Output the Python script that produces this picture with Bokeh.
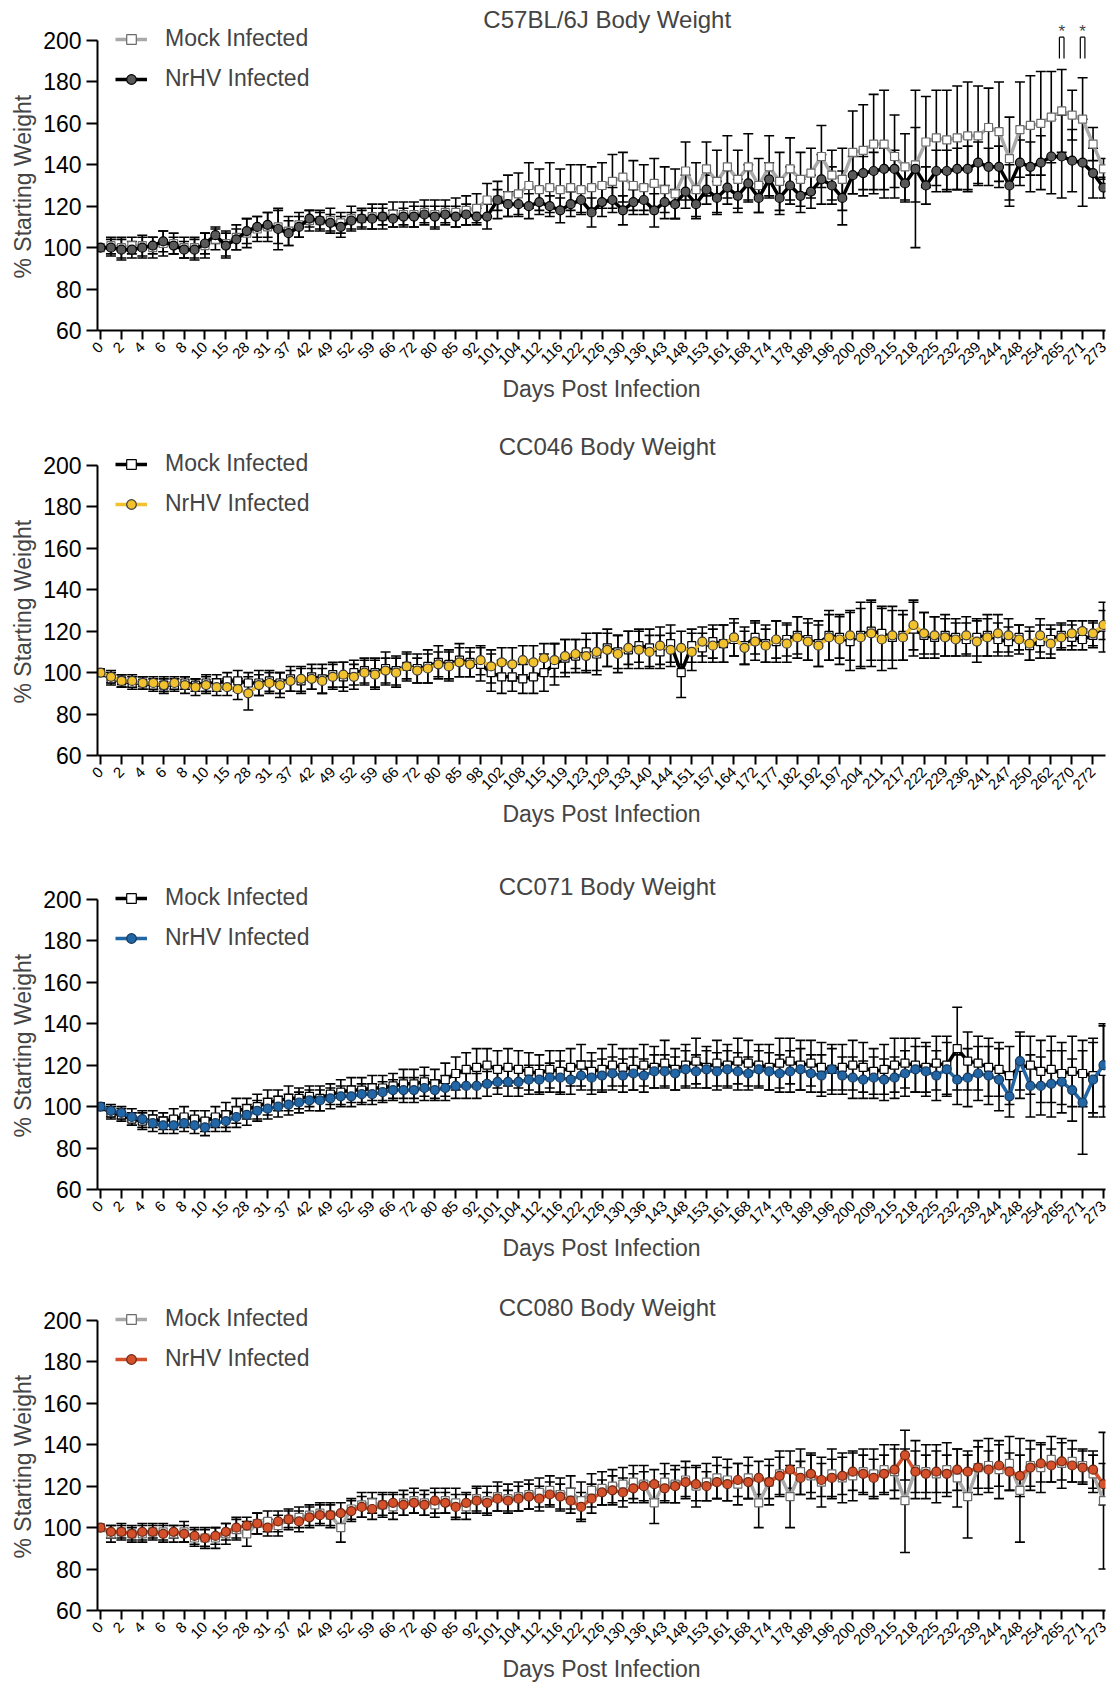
import math
from bokeh.plotting import figure
from bokeh.models import (FixedTicker, Legend, LegendItem, Label, ColumnDataSource,
                          Whisker, TeeHead, Range1d, Title)
from bokeh.layouts import column
from bokeh.embed import file_html
from bokeh.resources import INLINE

# ---------------- data ----------------
DAYS_A = [0, 1, 2, 3, 4, 5, 6, 7, 8, 9, 10, 12, 15, 21, 28, 29, 31, 35, 37, 39,
          42, 45, 49, 50, 52, 56, 59, 63, 66, 70, 72, 77, 80, 83, 85, 88, 92, 97, 101, 102,
          104, 108, 112, 114, 116, 119, 122, 124, 126, 128, 130, 133, 136, 140, 143, 145, 148, 151, 153, 157,
          161, 164, 168, 171, 174, 176, 178, 182, 189, 192, 196, 197, 200, 204, 209, 211, 215, 217, 218, 222,
          225, 229, 232, 236, 239, 241, 244, 246, 248, 250, 254, 262, 265, 270, 271, 272, 273]
DAYS_B = [0, 1, 2, 3, 4, 5, 6, 7, 8, 9, 10, 12, 15, 21, 28, 29, 31, 35, 37, 39,
          42, 45, 49, 50, 52, 56, 59, 63, 66, 70, 72, 77, 80, 83, 85, 92, 98, 100, 102, 105,
          108, 112, 115, 117, 119, 121, 123, 126, 129, 131, 133, 136, 140, 142, 144, 148, 151, 154, 157, 161,
          164, 168, 172, 175, 177, 179, 182, 189, 192, 195, 197, 200, 204, 208, 211, 215, 217, 219, 222, 225,
          229, 232, 236, 239, 241, 244, 247, 248, 250, 254, 262, 265, 270, 271, 272, 273]
LABELED_A = DAYS_A[0::2]
LABELED_B = DAYS_B[0::2]

# Panel 1: C57BL/6J
B6_MOCK = [100, 101, 100, 101, 101, 100, 102, 102, 100, 100,
           101, 104, 102, 105, 107, 109, 110, 110, 108, 111,
           113, 113, 113, 112, 114, 114, 115, 115, 116, 116,
           116, 117, 116, 117, 117, 118, 119, 123, 123, 125,
           126, 130, 128, 129, 128, 129, 128, 129, 130, 132,
           134, 130, 129, 131, 128, 126, 137, 128, 138, 132,
           139, 133, 139, 130, 139, 132, 138, 133, 136, 144,
           135, 133, 146, 147, 150, 150, 144, 139, 140, 151,
           153, 152, 153, 154, 154, 158, 156, 143, 157, 159,
           160, 163, 166, 164, 162, 150, 138]
B6_MOCK_ERR = [0, 4, 5, 4, 5, 5, 6, 5, 5, 5,
               6, 5, 6, 6, 7, 6, 7, 8, 7, 6,
               5, 5, 6, 5, 6, 5, 6, 6, 6, 6,
               6, 6, 7, 6, 7, 7, 7, 8, 9, 10,
               10, 11, 10, 12, 10, 11, 12, 10, 11, 13,
               12, 12, 11, 12, 11, 12, 14, 13, 13, 15,
               15, 14, 16, 13, 15, 14, 15, 13, 12, 15,
               12, 15, 20, 22, 24, 26, 20, 16, 18, 22,
               23, 24, 25, 26, 24, 19, 24, 20, 23, 24,
               25, 22, 20, 12, 20, 8, 5]
B6_NRHV = [100, 100, 99, 99, 100, 101, 103, 101, 99, 99,
           102, 106, 101, 104, 108, 110, 111, 109, 107, 110,
           114, 113, 112, 110, 113, 114, 114, 115, 114, 115,
           115, 116, 115, 116, 115, 116, 115, 115, 123, 121,
           121, 120, 122, 120, 118, 121, 123, 117, 122, 123,
           118, 122, 123, 118, 122, 121, 127, 121, 128, 124,
           129, 125, 131, 124, 133, 124, 130, 125, 127, 133,
           130, 124, 135, 136, 137, 138, 138, 131, 138, 130,
           137, 137, 138, 138, 141, 139, 139, 130, 141, 139,
           141, 144, 144, 142, 141, 136, 129]
B6_NRHV_ERR = [0, 4, 5, 4, 5, 4, 5, 4, 4, 5,
               5, 4, 6, 5, 6, 5, 6, 10, 6, 5,
               4, 4, 4, 5, 4, 4, 5, 4, 4, 4,
               5, 4, 5, 4, 5, 5, 4, 6, 5, 6,
               6, 6, 6, 5, 6, 6, 6, 7, 7, 6,
               7, 6, 7, 8, 8, 7, 8, 7, 7, 8,
               8, 8, 9, 7, 8, 8, 9, 8, 8, 12,
               9, 13, 9, 8, 9, 10, 9, 9, 38, 9,
               10, 10, 10, 11, 10, 9, 10, 10, 11, 12,
               13, 18, 20, 15, 21, 12, 5]

# Panel 2: CC046
CC046_MOCK = [100, 97, 96, 95, 95, 94, 94, 94, 95, 94,
              95, 95, 96, 96, 95, 95, 96, 95, 97, 96,
              98, 97, 99, 98, 100, 101, 100, 102, 101, 103,
              102, 103, 105, 104, 106, 105, 104, 100, 98, 98,
              97, 98, 100, 104, 107, 108, 110, 109, 112, 110,
              111, 113, 112, 110, 114, 100, 113, 112, 115, 114,
              116, 113, 117, 114, 115, 116, 118, 116, 114, 118,
              117, 115, 118, 120, 119, 117, 118, 121, 118, 117,
              118, 117, 116, 117, 118, 116, 115, 117, 113, 115,
              116, 118, 117, 116, 118, 122]
CC046_MOCK_ERR = [0, 3, 3, 3, 3, 3, 4, 3, 3, 3,
                  4, 4, 4, 5, 5, 6, 5, 5, 6, 6,
                  6, 7, 6, 7, 6, 6, 7, 8, 7, 7,
                  7, 8, 8, 7, 8, 7, 8, 9, 8, 7,
                  7, 8, 9, 10, 9, 8, 9, 10, 9, 8,
                  9, 8, 9, 8, 9, 12, 8, 7, 8, 9,
                  8, 9, 8, 9, 10, 8, 9, 10, 11, 12,
                  10, 14, 16, 14, 13, 15, 12, 13, 11, 10,
                  10, 9, 8, 9, 10, 8, 7, 6, 7, 8,
                  7, 6, 6, 5, 6, 12]
CC046_NRHV = [100, 98, 96, 96, 95, 95, 94, 95, 94, 93,
              94, 93, 93, 92, 90, 94, 95, 94, 96, 97,
              97, 96, 98, 99, 98, 100, 99, 101, 100, 103,
              101, 102, 104, 103, 105, 104, 106, 103, 105, 104,
              106, 105, 107, 106, 108, 109, 108, 110, 111, 109,
              112, 111, 110, 113, 111, 112, 110, 115, 113, 114,
              117, 112, 115, 113, 116, 114, 117, 115, 113, 117,
              116, 118, 117, 119, 116, 118, 117, 123, 119, 118,
              117, 116, 118, 115, 117, 119, 118, 116, 114, 118,
              114, 117, 119, 120, 119, 123]
CC046_NRHV_ERR = [0, 3, 3, 3, 3, 3, 3, 3, 4, 4,
                  4, 4, 4, 5, 8, 5, 5, 6, 5, 6,
                  5, 6, 6, 6, 6, 6, 7, 6, 7, 6,
                  6, 7, 6, 7, 7, 6, 7, 8, 7, 8,
                  7, 8, 7, 8, 8, 7, 8, 9, 8, 9,
                  8, 9, 8, 9, 8, 8, 9, 7, 8, 9,
                  9, 8, 9, 8, 9, 9, 10, 9, 10, 11,
                  12, 12, 14, 16, 15, 12, 11, 12, 10, 9,
                  9, 8, 9, 10, 9, 9, 8, 7, 8, 8,
                  7, 6, 6, 5, 6, 7]

# Panel 3: CC071
CC071_MOCK = [100, 97, 96, 94, 93, 94, 93, 94, 95, 94,
              93, 95, 96, 98, 99, 100, 102, 103, 104, 104,
              105, 104, 106, 107, 108, 108, 109, 109, 110, 111,
              111, 112, 111, 113, 116, 118, 119, 120, 118, 119,
              118, 117, 116, 118, 117, 119, 120, 117, 118, 120,
              119, 118, 120, 119, 121, 118, 120, 122, 119, 121,
              120, 122, 121, 120, 119, 121, 122, 120, 121, 119,
              118, 119, 120, 119, 117, 118, 120, 121, 120, 119,
              121, 120, 128, 122, 121, 119, 118, 115, 119, 120,
              117, 118, 116, 117, 116, 115, 117]
CC071_MOCK_ERR = [0, 3, 3, 3, 4, 4, 4, 5, 5, 4,
                  5, 5, 6, 6, 5, 6, 6, 5, 6, 5,
                  5, 6, 5, 6, 6, 6, 6, 6, 6, 7,
                  7, 7, 7, 8, 8, 8, 9, 8, 9, 9,
                  9, 9, 9, 9, 10, 9, 10, 9, 10, 10,
                  9, 10, 10, 10, 11, 10, 10, 11, 10, 11,
                  10, 11, 11, 10, 11, 12, 11, 12, 11, 12,
                  12, 11, 12, 12, 11, 12, 13, 12, 13, 12,
                  13, 14, 20, 14, 13, 14, 13, 14, 15, 14,
                  15, 16, 15, 17, 16, 18, 22]
CC071_NRHV = [100, 98, 97, 95, 94, 92, 91, 91, 92, 91,
              90, 92, 93, 95, 96, 98, 99, 100, 101, 102,
              103, 103, 104, 105, 105, 106, 106, 107, 108, 108,
              108, 109, 108, 109, 110, 110, 110, 111, 112, 112,
              112, 113, 113, 114, 114, 113, 115, 114, 115, 116,
              115, 116, 115, 117, 117, 116, 118, 117, 118, 117,
              118, 117, 116, 118, 117, 116, 117, 118, 116, 115,
              118, 115, 114, 113, 114, 113, 114, 116, 118, 117,
              115, 118, 113, 114, 116, 115, 113, 105, 122, 110,
              110, 111, 112, 108, 102, 113, 120]
CC071_NRHV_ERR = [0, 3, 3, 4, 4, 4, 4, 4, 4, 4,
                  4, 4, 5, 5, 5, 5, 5, 5, 5, 5,
                  5, 5, 5, 5, 5, 5, 5, 5, 5, 6,
                  6, 6, 5, 6, 6, 6, 6, 6, 6, 7,
                  7, 7, 7, 7, 8, 7, 7, 8, 8, 8,
                  8, 8, 8, 8, 8, 8, 9, 8, 9, 9,
                  9, 9, 8, 9, 9, 9, 10, 10, 9, 10,
                  10, 9, 10, 9, 10, 10, 10, 11, 11, 12,
                  12, 13, 12, 14, 13, 14, 15, 10, 14, 15,
                  14, 16, 15, 15, 25, 18, 20]

# Panel 4: CC080
CC080_MOCK = [100, 97, 98, 97, 97, 98, 98, 97, 98, 95,
              95, 95, 97, 99, 97, 102, 103, 101, 104, 105,
              106, 107, 106, 100, 109, 111, 112, 111, 110, 112,
              113, 112, 111, 113, 112, 110, 114, 113, 115, 114,
              115, 116, 117, 118, 116, 117, 113, 118, 119, 120,
              121, 122, 121, 112, 122, 121, 123, 120, 122, 124,
              123, 121, 124, 112, 122, 126, 115, 127, 125, 122,
              126, 124, 125, 127, 126, 128, 127, 113, 128, 127,
              126, 128, 124, 115, 129, 130, 128, 131, 118, 130,
              129, 133, 131, 132, 130, 126, 113]
CC080_MOCK_ERR = [0, 4, 4, 4, 4, 4, 4, 4, 5, 4,
                  5, 5, 5, 5, 6, 5, 5, 5, 5, 5,
                  5, 5, 6, 7, 5, 6, 5, 6, 6, 6,
                  6, 6, 6, 6, 7, 6, 6, 7, 7, 7,
                  7, 7, 7, 7, 8, 8, 9, 8, 8, 8,
                  8, 8, 9, 10, 9, 9, 9, 10, 9, 10,
                  10, 10, 10, 12, 11, 11, 15, 11, 11, 12,
                  12, 12, 12, 11, 12, 12, 13, 25, 14, 13,
                  14, 13, 14, 20, 13, 13, 14, 13, 25, 12,
                  12, 11, 12, 10, 8, 9, 33]
CC080_NRHV = [100, 98, 98, 97, 98, 98, 97, 98, 97, 96,
              95, 96, 98, 100, 101, 102, 100, 103, 104, 103,
              105, 106, 106, 107, 108, 110, 109, 111, 112, 111,
              112, 111, 113, 112, 110, 112, 113, 112, 114, 113,
              114, 115, 114, 116, 115, 113, 110, 114, 117, 118,
              117, 119, 120, 121, 119, 120, 122, 121, 120, 122,
              121, 123, 122, 124, 122, 125, 128, 124, 126, 123,
              124, 125, 127, 126, 124, 126, 128, 135, 127, 126,
              127, 126, 128, 127, 129, 128, 130, 127, 125, 129,
              131, 130, 132, 130, 129, 128, 121]
CC080_NRHV_ERR = [0, 3, 3, 3, 4, 3, 4, 3, 4, 4,
                  4, 4, 4, 5, 4, 5, 4, 5, 4, 5,
                  5, 5, 5, 5, 5, 5, 5, 5, 5, 5,
                  5, 5, 6, 5, 6, 5, 6, 5, 6, 5,
                  6, 6, 6, 6, 6, 6, 7, 7, 6, 7,
                  7, 7, 7, 7, 7, 8, 7, 8, 7, 8,
                  8, 8, 8, 8, 8, 9, 9, 8, 9, 8,
                  9, 9, 9, 9, 9, 9, 10, 12, 10, 9,
                  10, 9, 10, 10, 10, 9, 10, 9, 10, 9,
                  9, 8, 9, 8, 8, 9, 10]

SIG_DAYS_B6 = [265, 271]
Y_TICKS = [60, 80, 100, 120, 140, 160, 180, 200]

FONT = "Liberation Sans"
PX_PER_UNIT = 290 / 140.0     # 60..200 spans 290 px
EXTRA_PX = 35                  # room above the 200 line (titles, legend)
Y_TOP = 200 + EXTRA_PX / PX_PER_UNIT
FRAME_W = 1008
SPAN_PX = 1003                 # first point 3 px right of the y axis, last 2 px before frame end


def make_panel(title, days, labeled, mock, mock_err, nrhv, nrhv_err, mock_line, mock_mk_line,
               nrhv_line, nrhv_fill, nrhv_mk_line, top, bottom, title_px, sig_days=None):
    n = len(days)
    assert len(mock) == n and len(mock_err) == n and len(nrhv) == n and len(nrhv_err) == n, title
    idx = list(range(n))
    s = SPAN_PX / (n - 1)
    p = figure(frame_width=FRAME_W, frame_height=290 + EXTRA_PX, min_border_left=97, min_border_right=6,
               min_border_top=top, min_border_bottom=bottom,
               x_range=Range1d(-3 / s, (n - 1) + 2 / s), y_range=Range1d(60, Y_TOP),
               output_backend="svg", toolbar_location=None)
    p.outline_line_color = None
    p.xgrid.visible = False
    p.ygrid.visible = False

    tick_pos = [days.index(d) for d in labeled]
    p.xaxis.ticker = FixedTicker(ticks=tick_pos)
    p.xaxis.major_label_overrides = {i: str(days[i]) for i in tick_pos}
    p.xaxis.major_label_orientation = math.pi / 4
    p.yaxis.ticker = FixedTicker(ticks=Y_TICKS)
    p.yaxis.bounds = (60, 200)
    for ax in (p.xaxis[0], p.yaxis[0]):
        ax.axis_line_width = 2
        ax.axis_line_color = "black"
        ax.major_tick_line_width = 2
        ax.major_tick_line_color = "black"
        ax.major_tick_in = 0
        ax.minor_tick_line_color = None
        ax.axis_label_text_font = FONT
        ax.axis_label_text_font_style = "normal"
        ax.axis_label_text_font_size = "23px"
        ax.major_label_text_font = FONT
        ax.major_label_text_color = "black"
    p.xaxis.major_tick_out = 9
    p.yaxis.major_tick_out = 11
    p.xaxis.major_label_text_font_size = "15px"
    p.yaxis.major_label_text_font_size = "23px"
    p.xaxis.axis_label = "Days Post Infection"
    p.xaxis.axis_label_standoff = 4

    ylab = Title(text="% Starting Weight", align="left", offset=52, text_font=FONT,
                 text_font_size="23px", text_font_style="normal", standoff=10)
    p.add_layout(ylab, "left")

    p.add_layout(Label(x=(n - 1) * 48.5 / 96, y=200 + title_px / PX_PER_UNIT, text=title,
                       text_align="center", text_baseline="middle", text_font=FONT,
                       text_font_size="24px"))

    def whiskers(vals, errs):
        xs = [i for i in idx if errs[i] > 0]
        src = ColumnDataSource(dict(x=xs, upper=[vals[i] + errs[i] for i in xs],
                                    lower=[vals[i] - errs[i] for i in xs]))
        w = Whisker(base="x", upper="upper", lower="lower", source=src,
                    line_color="black", line_width=1.6,
                    upper_head=TeeHead(size=10, line_color="black", line_width=1.6),
                    lower_head=TeeHead(size=10, line_color="black", line_width=1.6))
        p.add_layout(w)

    whiskers(mock, mock_err)
    ml = p.line(idx, mock, line_color=mock_line, line_width=3.5)
    ms = p.scatter(idx, mock, marker="square", size=8, fill_color="white",
                   line_color=mock_mk_line, line_width=1.2)
    whiskers(nrhv, nrhv_err)
    nl = p.line(idx, nrhv, line_color=nrhv_line, line_width=3.5)
    ns = p.scatter(idx, nrhv, marker="circle", size=9, fill_color=nrhv_fill,
                   line_color=nrhv_mk_line, line_width=1.2)

    legend = Legend(items=[LegendItem(label="Mock Infected", renderers=[ml, ms]),
                           LegendItem(label="NrHV Infected", renderers=[nl, ns])],
                    location=(18, 238))
    legend.label_text_font = FONT
    legend.label_text_font_size = "23px"
    legend.glyph_width = 32
    legend.glyph_height = 24
    legend.label_height = 24
    legend.spacing = 13
    legend.padding = 0
    legend.margin = 0
    legend.label_standoff = 18
    legend.border_line_alpha = 0
    legend.background_fill_alpha = 0
    p.add_layout(legend)

    if sig_days:
        for d in sig_days:
            i = days.index(d)
            p.segment(x0=[i - 0.22, i + 0.22, i - 0.22], y0=[191.3, 191.3, 201.6],
                      x1=[i - 0.22, i + 0.22, i + 0.22], y1=[201.6, 201.6, 201.6],
                      line_color="black", line_width=1.2)
            p.add_layout(Label(x=i, y=204.3, text="*", text_align="center",
                               text_baseline="middle", text_font=FONT,
                               text_font_size="17px"))
    return p


p1 = make_panel("C57BL/6J Body Weight", DAYS_A, LABELED_A, B6_MOCK, B6_MOCK_ERR, B6_NRHV, B6_NRHV_ERR,
                "#A9A9A9", "#6a6a6a", "black", "#595959", "black", 5, 100, 21, SIG_DAYS_B6)
p2 = make_panel("CC046 Body Weight", DAYS_B, LABELED_B, CC046_MOCK, CC046_MOCK_ERR, CC046_NRHV, CC046_NRHV_ERR,
                "black", "black", "#F2C12E", "#F2C12E", "#3a3a3a", 0, 109, 19)
p3 = make_panel("CC071 Body Weight", DAYS_A, LABELED_A, CC071_MOCK, CC071_MOCK_ERR, CC071_NRHV, CC071_NRHV_ERR,
                "black", "black", "#2366A5", "#2366A5", "#16395c", 0, 96, 13)
p4 = make_panel("CC080 Body Weight", DAYS_A, LABELED_A, CC080_MOCK, CC080_MOCK_ERR, CC080_NRHV, CC080_NRHV_ERR,
                "#A9A9A9", "#6a6a6a", "#D5512B", "#D5512B", "#6b2814", 0, 62, 13)

layout = column(p1, p2, p3, p4, spacing=0)
open("out.html", "w").write(file_html(layout, INLINE))
